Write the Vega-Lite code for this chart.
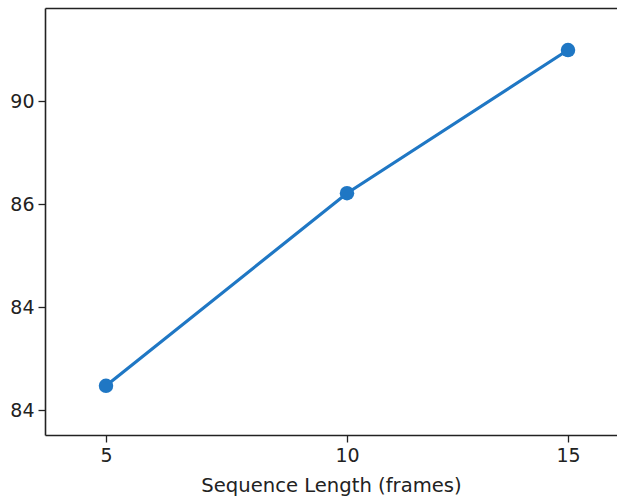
{
  "$schema": "https://vega.github.io/schema/vega-lite/v6.json",
  "width": 572,
  "height": 427,
  "autosize": {"type": "none"},
  "padding": {"left": 45, "top": 8, "right": 0, "bottom": 63},
  "background": "white",
  "config": {
    "view": {"stroke": null},
    "axis": {
      "labelFont": "DejaVu Sans",
      "titleFont": "DejaVu Sans",
      "labelFontSize": 19,
      "titleFontSize": 19.6,
      "titleFontWeight": "normal",
      "labelColor": "#222222",
      "titleColor": "#222222",
      "domainColor": "#222222",
      "tickColor": "#222222",
      "domainWidth": 1.6,
      "tickWidth": 1.3,
      "tickSize": 7,
      "labelPadding": 4,
      "grid": false
    }
  },
  "data": {
    "values": [
      {"frames": 5, "acc": 84.47},
      {"frames": 10, "acc": 88.21},
      {"frames": 15, "acc": 90.99}
    ]
  },
  "layer": [
    {
      "mark": {"type": "line", "color": "#1f77c4", "strokeWidth": 3.2},
      "encoding": {
        "x": {
          "field": "frames",
          "type": "quantitative",
          "scale": {"domain": [3.734, 5, 10, 15, 16.109], "range": [0, 61, 302, 523, 572]},
          "axis": {"orient": "bottom", "values": [5, 10, 15], "title": "Sequence Length (frames)", "titlePadding": 11, "domainColor": "#222222"}
        },
        "y": {
          "field": "acc",
          "type": "quantitative",
          "scale": {"domain": [83.515, 91.806], "nice": false, "zero": false},
          "axis": {"values": [84, 86, 88, 90], "labelExpr": "datum.value == 86 ? '84' : datum.value == 88 ? '86' : datum.label", "title": null}
        }
      }
    },
    {
      "mark": {"type": "point", "filled": true, "size": 210, "color": "#1f77c4", "opacity": 1},
      "encoding": {
        "x": {
          "field": "frames",
          "type": "quantitative",
          "scale": {"domain": [3.734, 5, 10, 15, 16.109], "range": [0, 61, 302, 523, 572]},
          "axis": {"orient": "top", "ticks": false, "labels": false, "title": null, "domain": true}
        },
        "y": {
          "field": "acc",
          "type": "quantitative",
          "scale": {"domain": [83.515, 91.806], "nice": false, "zero": false},
          "axis": {"values": [84, 86, 88, 90], "labelExpr": "datum.value == 86 ? '84' : datum.value == 88 ? '86' : datum.label", "title": null}
        }
      }
    }
  ],
  "resolve": {"axis": {"x": "independent"}}
}
